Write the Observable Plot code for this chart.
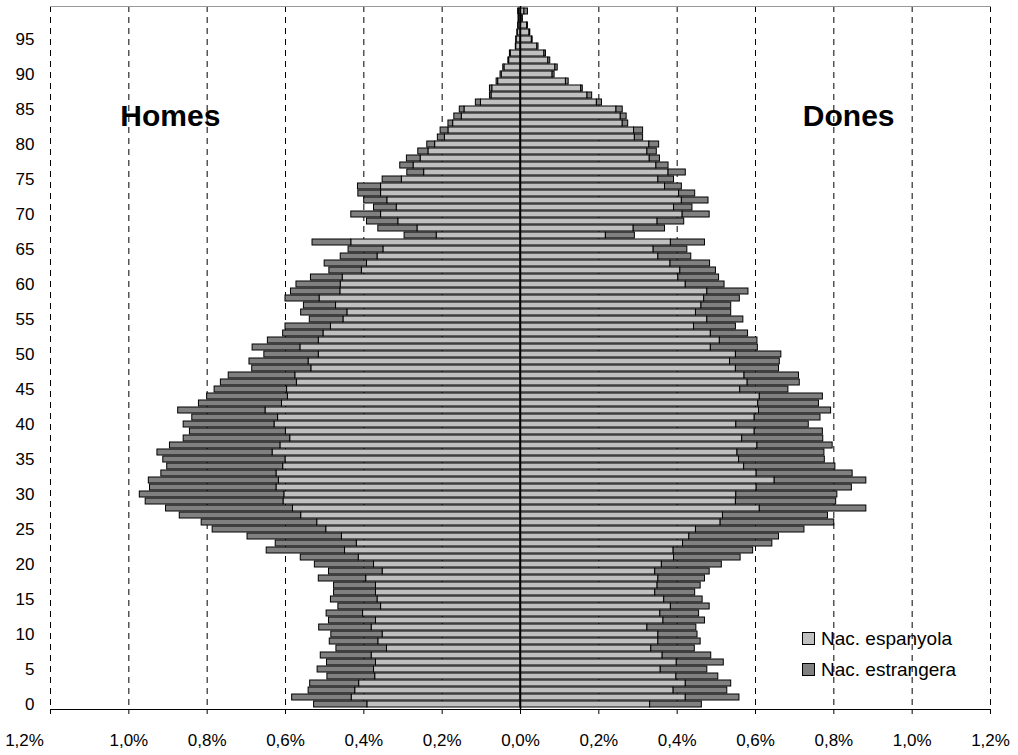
<!DOCTYPE html>
<html><head><meta charset="utf-8">
<script src="https://cdn.jsdelivr.net/npm/d3@7"></script>
<script src="https://cdn.jsdelivr.net/npm/@observablehq/plot@0.6"></script>
<style>
body{margin:0;background:#fff;font-family:"Liberation Sans",Arial,sans-serif;}
#wrap{position:relative;width:1018px;height:755px;}
#legend{position:absolute;left:802px;top:629px;font-size:19px;color:#000;}
#legend div{height:31px;line-height:19px;white-space:nowrap}
.sw{display:inline-block;width:11px;height:11px;border:1px solid #000;margin-right:6px;vertical-align:0px}
</style></head><body><div id="wrap"></div>
<script>
// Age categories 0..99
const ages = Array.from({length:100}, (_, i) => i);
// Homes (men): % of population, Spanish nationality and total (Spanish + foreign)
const menEsp = [0.391,0.431,0.422,0.412,0.371,0.374,0.369,0.380,0.341,0.363,
0.352,0.380,0.369,0.402,0.356,0.365,0.369,0.369,0.394,0.352,
0.374,0.413,0.448,0.418,0.456,0.496,0.519,0.560,0.581,0.605,
0.603,0.623,0.617,0.623,0.606,0.600,0.633,0.613,0.588,0.599,
0.628,0.619,0.651,0.609,0.594,0.596,0.571,0.575,0.534,0.541,
0.515,0.562,0.515,0.503,0.484,0.452,0.442,0.471,0.513,0.460,
0.459,0.454,0.405,0.392,0.365,0.350,0.432,0.214,0.263,0.312,
0.356,0.316,0.340,0.356,0.356,0.303,0.246,0.273,0.255,0.235,
0.218,0.193,0.184,0.172,0.150,0.143,0.101,0.074,0.072,0.057,
0.048,0.041,0.029,0.025,0.011,0.010,0.007,0.005,0.004,0.004];
const menTot = [0.527,0.583,0.541,0.537,0.493,0.518,0.494,0.510,0.470,0.487,
0.483,0.514,0.489,0.495,0.465,0.484,0.476,0.476,0.515,0.489,
0.525,0.561,0.648,0.625,0.697,0.786,0.814,0.870,0.905,0.957,
0.972,0.946,0.949,0.917,0.902,0.912,0.927,0.895,0.860,0.844,
0.860,0.838,0.874,0.821,0.800,0.781,0.765,0.745,0.685,0.692,
0.654,0.684,0.645,0.606,0.600,0.538,0.560,0.553,0.600,0.586,
0.572,0.535,0.488,0.500,0.459,0.439,0.531,0.296,0.363,0.392,
0.432,0.374,0.399,0.414,0.415,0.352,0.289,0.307,0.290,0.261,
0.238,0.211,0.204,0.184,0.169,0.155,0.114,0.078,0.078,0.061,
0.051,0.044,0.031,0.027,0.012,0.011,0.008,0.006,0.005,0.006];
// Dones (women)
const womenEsp = [0.331,0.422,0.391,0.422,0.398,0.358,0.399,0.363,0.334,0.352,
0.352,0.324,0.365,0.357,0.384,0.367,0.344,0.350,0.352,0.344,
0.361,0.392,0.391,0.415,0.431,0.448,0.511,0.517,0.611,0.550,
0.551,0.603,0.649,0.603,0.571,0.558,0.554,0.605,0.566,0.598,
0.551,0.598,0.609,0.607,0.611,0.561,0.580,0.572,0.550,0.535,
0.550,0.486,0.509,0.486,0.443,0.477,0.448,0.462,0.469,0.477,
0.422,0.403,0.408,0.383,0.352,0.340,0.384,0.218,0.289,0.350,
0.414,0.392,0.412,0.405,0.369,0.352,0.378,0.347,0.330,0.324,
0.329,0.292,0.290,0.261,0.256,0.245,0.195,0.171,0.155,0.116,
0.082,0.089,0.071,0.061,0.043,0.029,0.023,0.017,0.005,0.010];
const womenTot = [0.463,0.559,0.528,0.538,0.505,0.477,0.519,0.487,0.445,0.460,
0.452,0.449,0.471,0.456,0.483,0.465,0.446,0.460,0.471,0.483,
0.514,0.562,0.594,0.643,0.660,0.725,0.801,0.785,0.883,0.806,
0.809,0.846,0.883,0.848,0.804,0.777,0.776,0.797,0.773,0.772,
0.736,0.766,0.793,0.762,0.772,0.684,0.713,0.711,0.660,0.662,
0.666,0.606,0.605,0.581,0.550,0.569,0.538,0.538,0.560,0.582,
0.521,0.507,0.499,0.484,0.436,0.426,0.471,0.292,0.369,0.418,
0.483,0.439,0.480,0.446,0.412,0.392,0.422,0.378,0.356,0.348,
0.354,0.313,0.313,0.275,0.271,0.261,0.208,0.183,0.159,0.123,
0.087,0.095,0.076,0.065,0.046,0.031,0.025,0.019,0.006,0.019];
const xTicks = [-1.2,-1.0,-0.8,-0.6,-0.4,-0.2,0,0.2,0.4,0.6,0.8,1.0,1.2];
const gridTicks = [-1.2,-1.0,-0.8,-0.6,-0.4,-0.2,0.2,0.4,0.6,0.8,1.0,1.2];
const yTicks = [0,5,10,15,20,25,30,35,40,45,50,55,60,65,70,75,80,85,90,95];
const seriesNames = ["Nac. espanyola","Nac. estrangera"];
const sideLabels = ["Homes","Dones"];

const rows = ages.map((a, i) => ({age: a, mEsp: menEsp[i], mTot: menTot[i], wEsp: womenEsp[i], wTot: womenTot[i]}));
const fmt = d => Math.abs(d).toFixed(1).replace(".", ",") + "%";
const light = "#c0c0c0", dark = "#808080";

const chart = Plot.plot({
  width: 1018, height: 755,
  marginLeft: 50, marginRight: 28, marginTop: 6, marginBottom: 46,
  style: {fontFamily: "'Liberation Sans', Arial, sans-serif", fontSize: "17px", background: "#fff", color: "#000"},
  x: {domain: [-1.2, 1.2]},
  y: {type: "band", domain: ages.slice().reverse(), paddingInner: 0.1, paddingOuter: 0.05},
  marks: [
    Plot.ruleX(gridTicks, {stroke: "#000", strokeDasharray: "6,5", strokeWidth: 1}),
    Plot.frame({anchor: "top", stroke: "#999"}),
    Plot.barX(rows, {y: "age", x1: 0, x2: d => -d.mEsp, fill: light, stroke: "#000", strokeWidth: 1}),
    Plot.barX(rows, {y: "age", x1: d => -d.mEsp, x2: d => -d.mTot, fill: dark, stroke: "#000", strokeWidth: 1}),
    Plot.barX(rows, {y: "age", x1: 0, x2: "wEsp", fill: light, stroke: "#000", strokeWidth: 1}),
    Plot.barX(rows, {y: "age", x1: "wEsp", x2: "wTot", fill: dark, stroke: "#000", strokeWidth: 1}),
    Plot.ruleX([0], {stroke: "#000", strokeWidth: 1.5}),
    Plot.frame({anchor: "bottom", stroke: "#000"}),
    Plot.axisX({ticks: xTicks, tickFormat: d => d === -1.2 ? "" : fmt(d), tickSize: 5, tickPadding: 19, fontSize: 17, label: null}),
    Plot.axisX({ticks: [-1.2], tickFormat: fmt, tickSize: 0, tickPadding: 24, dx: -26, fontSize: 17, label: null}),
    Plot.axisY({ticks: yTicks, tickSize: 0, tickPadding: 16, fontSize: 17, label: null}),
    Plot.text([sideLabels[0]], {x: -0.894, y: 84, text: d => d, fontSize: 30, fontWeight: "bold"}),
    Plot.text([sideLabels[1]], {x: 0.838, y: 84, text: d => d, fontSize: 30, fontWeight: "bold"})
  ]
});
const wrap = document.getElementById("wrap");
wrap.appendChild(chart);
const leg = document.createElement("div");
leg.id = "legend";
leg.innerHTML = seriesNames.map((n, i) => `<div><span class="sw" style="background:${i ? dark : light}"></span>${n}</div>`).join("");
wrap.appendChild(leg);
</script></body></html>
